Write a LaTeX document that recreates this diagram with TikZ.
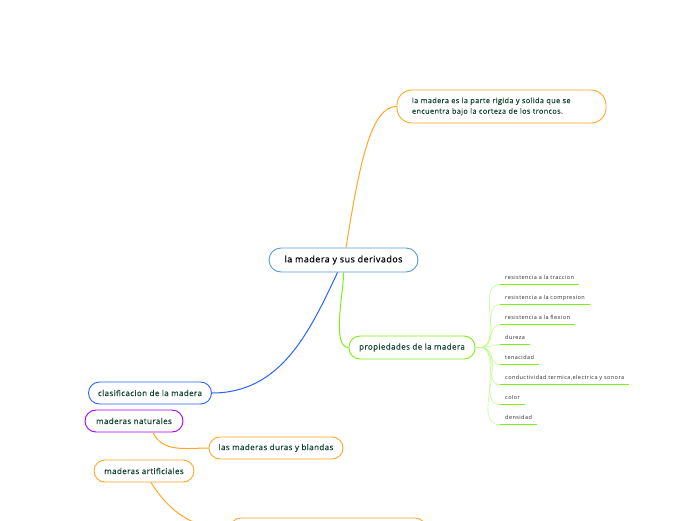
\documentclass[tikz,border=0pt]{standalone}
\usepackage{fontspec}
\setmainfont{Open Sans}
\newfontfamily\topicfont[LetterSpace=5, FakeBold=0.25]{Open Sans}
\newfontfamily\leaffont[LetterSpace=8]{Open Sans}
\definecolor{rootblue}{RGB}{85,155,220}
\definecolor{maporange}{RGB}{255,167,38}
\definecolor{mapgreen}{RGB}{125,240,20}
\definecolor{twiggreen}{RGB}{190,250,130}
\definecolor{mapblue}{RGB}{41,98,255}
\definecolor{mappurple}{RGB}{170,0,255}
\definecolor{textgreen}{RGB}{18,68,48}
\definecolor{leafgray}{RGB}{45,45,45}
\usetikzlibrary{positioning}

\begin{document}
\begin{tikzpicture}[
  x=1pt, y=-1pt,
  topic/.style={draw, rounded corners=11pt, line width=0.9pt, fill=white, text=textgreen, font=\topicfont\fontsize{8}{10}\selectfont, inner sep=0pt, minimum height=22pt},
  leaf/.style={anchor=south west, inner xsep=5pt, inner ysep=0pt, text height=4pt, text depth=5.5pt, text=leafgray, font=\leaffont\fontsize{5.5}{6}\selectfont},
  link/.style={line width=1pt},
  twig/.style={line width=0.5pt, twiggreen},
  underline/.style={line width=1.3pt, mapgreen}
]
\clip (0,0) rectangle (696,520);

% central topic
\node[topic, draw=rootblue, text=black, rounded corners=12pt, minimum width=149pt, minimum height=24pt, font=\topicfont\fontsize{9}{11}\selectfont] (root) at (343.5,260) {la madera y sus derivados};

% main branches
\node[topic, draw=maporange, rounded corners=15pt, minimum width=209pt, minimum height=33pt, text width=179pt, align=left, font=\topicfont\fontsize{7.3}{10.6}\selectfont] (def) at (501.5,106.5) {la madera es la parte rigida y solida que se\\encuentra bajo la corteza de los troncos.};
\node[topic, draw=mapgreen, minimum width=126pt, minimum height=23pt] (prop) at (412,347.5) {propiedades de la madera};
\node[topic, draw=mapblue, minimum width=123pt] (clas) at (150,393) {clasificacion de la madera};
\node[topic, draw=mappurple, minimum width=98pt] (nat) at (134,421) {maderas naturales};
\node[topic, draw=maporange, minimum width=134pt] (duras) at (276,448) {las maderas duras y blandas};
\node[topic, draw=maporange, minimum width=100pt] (art) at (144,471) {maderas artificiales};
\node[topic, draw=maporange, minimum width=196pt] (bot) at (328,529) {};

\draw[link, maporange] (root.north) ++(2.5,0) .. controls +(14,-88) and +(-25,0) .. (def.west);
\draw[link, mapgreen] (root.south) to[out=-88, in=180, looseness=0.6] (prop.west);
\draw[link, mapblue] (root.south) ++(-6,0) to[out=-115, in=0] (clas.east);
\draw[link, maporange] (nat.south) ++(19,0) to[out=-65, in=180] (duras.west);
\draw[link, maporange] (art.south) ++(7,0) to[out=-58, in=180] (bot.west);

% properties
\foreach \txt [count=\i] in {resistencia a la traccion, resistencia a la compresion, resistencia a la flexion, dureza, tenacidad, {conductividad termica,electrica y sonora}, color, densidad} {
  \node[leaf] (p\i) at (500,264.7+20*\i) {\txt};
  \draw[twig] (prop.east) -- ++(5,0) to[out=0, in=180] (p\i.south west);
  \draw[underline] (p\i.south west) -- (p\i.south east);
}
\end{tikzpicture}
\end{document}
